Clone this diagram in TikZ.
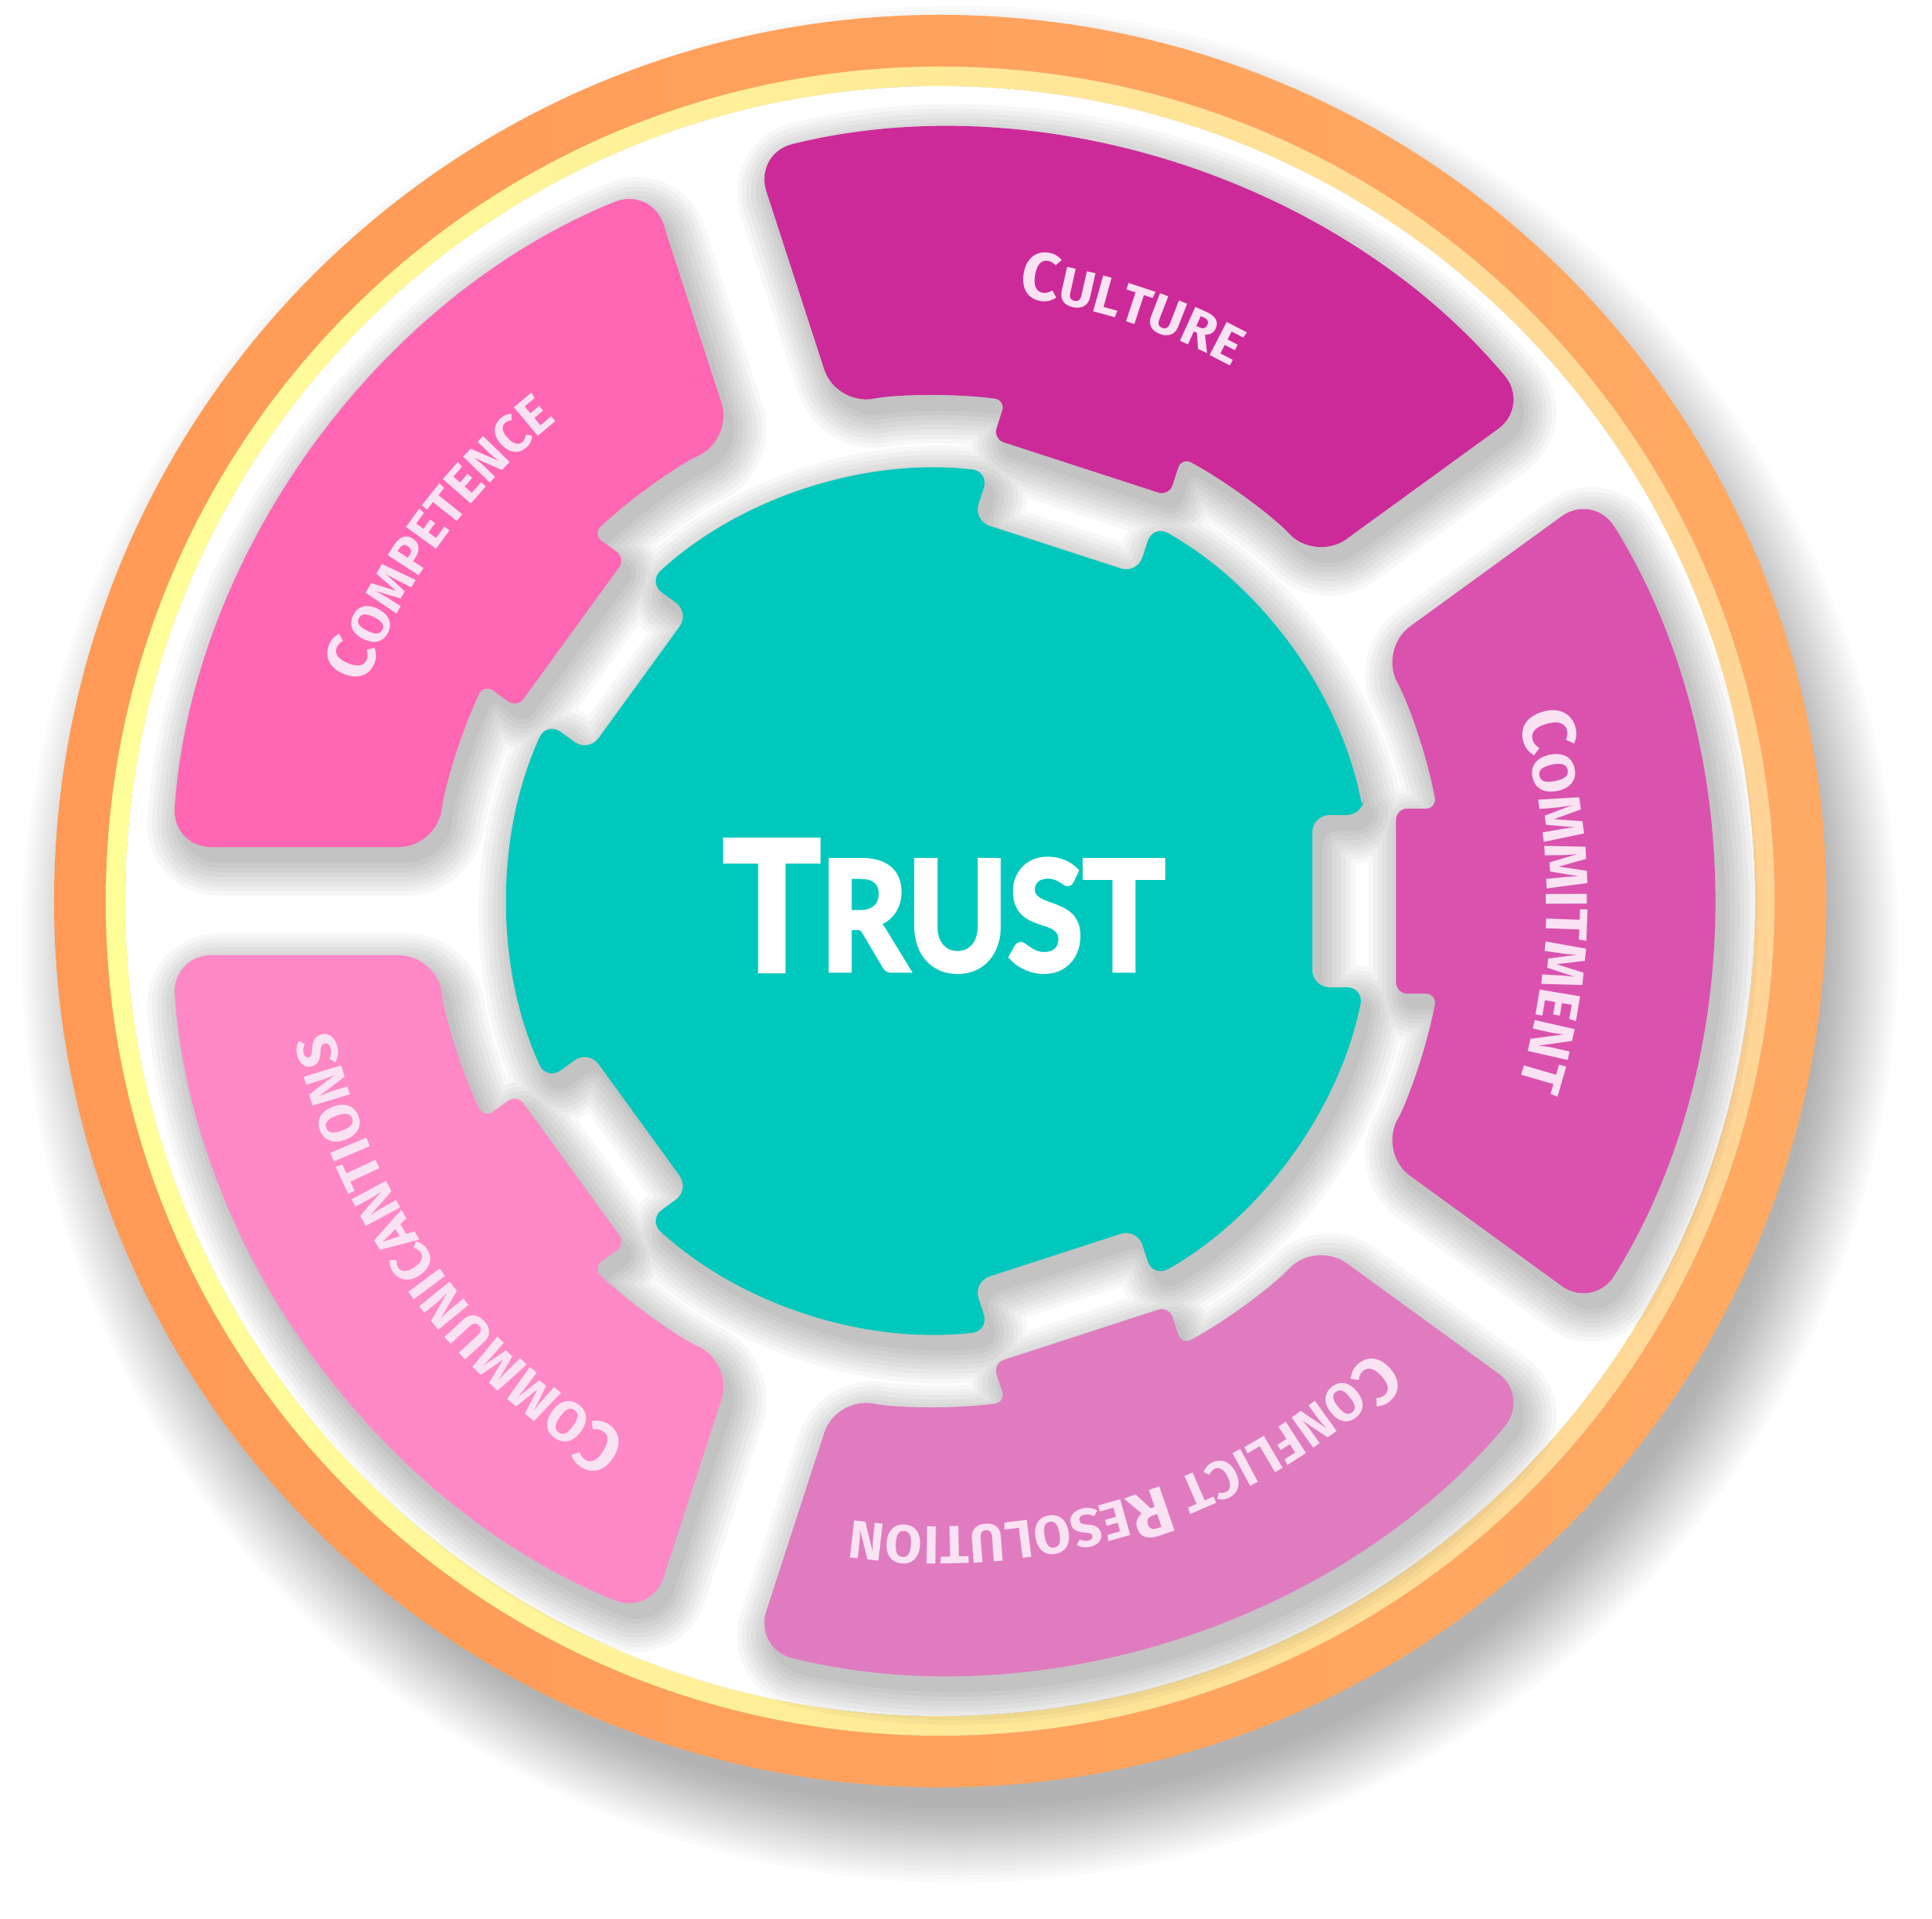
\documentclass[tikz,border=0pt]{standalone}
\usepackage{fontspec}
\setmainfont{Lato}
\newfontfamily\trustfont{Lato}[FakeBold=3.5]
\newfontfamily\labelfont{Fira Sans}
\usetikzlibrary{decorations.text}
\definecolor{ringorange}{HTML}{FF9A56}
\definecolor{ringorangeB}{HTML}{FFAA64}
\definecolor{ringyellow}{HTML}{FFFF9A}
\definecolor{ringpeach}{HTML}{FFD496}
\definecolor{trustteal}{HTML}{00C8BC}
\definecolor{labelcol}{HTML}{F9E2F2}
\definecolor{cCompetence}{HTML}{FF66B4}
\definecolor{lCompetence}{HTML}{FF96FA}
\definecolor{cCulture}{HTML}{CC2A99}
\definecolor{lCulture}{HTML}{FA40D0}
\definecolor{cCommitment}{HTML}{DA52AE}
\definecolor{lCommitment}{HTML}{FF62D6}
\definecolor{cConflict}{HTML}{E07BC0}
\definecolor{lConflict}{HTML}{FF8CDE}
\definecolor{cCommunic}{HTML}{FF88C6}
\definecolor{lCommunic}{HTML}{FFA4F2}
\pgfdeclareradialshading{shCompetence}{\pgfpoint{0bp}{0bp}}{color(0bp)=(cCompetence); color(37bp)=(cCompetence); color(50bp)=(lCompetence)}
\pgfdeclareradialshading{shCulture}{\pgfpoint{0bp}{0bp}}{color(0bp)=(cCulture); color(39bp)=(cCulture); color(50bp)=(lCulture)}
\pgfdeclareradialshading{shCommitment}{\pgfpoint{0bp}{0bp}}{color(0bp)=(cCommitment); color(39bp)=(cCommitment); color(50bp)=(lCommitment)}
\pgfdeclareradialshading{shConflict}{\pgfpoint{0bp}{0bp}}{color(0bp)=(cConflict); color(39bp)=(cConflict); color(50bp)=(lConflict)}
\pgfdeclareradialshading{shCommunic}{\pgfpoint{0bp}{0bp}}{color(0bp)=(cCommunic); color(37bp)=(cCommunic); color(50bp)=(lCommunic)}
% one ring block, centred on angle #1
\newcommand{\segpath}[1]{[rounded corners=0.5cm] ({#1-31.975}:9.83) arc[start angle={#1-31.975}, end angle={#1+31.975}, radius=9.83] -- ({#1+29.859}:6.45) [rounded corners=0.14cm] arc[start angle={#1+29.859}, end angle={#1+10.541}, radius=6.45] -- ({#1+11.461}:5.9384) -- ({#1-11.461}:5.9384) -- ({#1-10.541}:6.45) [rounded corners=0.5cm] arc[start angle={#1-10.541}, end angle={#1-29.859}, radius=6.45] -- cycle}
% central gear
\newcommand{\tealpath}{[rounded corners=0.22cm] (11.495:5.52) \foreach \k in {72,144,216,288,360} { arc[start angle={\k-72+11.495}, end angle={\k-11.495}, radius=5.52] -- ({\k-13.04}:4.8757) -- ({\k+13.04}:4.8757) -- ({\k+11.495}:5.52) } -- cycle}
\newcommand{\lblbig}{\labelfont\bfseries\fontsize{24.5}{24.5}\selectfont\color{labelcol}}
\newcommand{\lblsmall}{\labelfont\bfseries\fontsize{19.5}{19.5}\selectfont\color{labelcol}}
\newcommand{\lblbigB}{\labelfont\bfseries\fontsize{27}{27}\selectfont\color{labelcol}}
\newcommand{\lblsmallB}{\labelfont\bfseries\fontsize{21.5}{21.5}\selectfont\color{labelcol}}
\newcommand{\lblbigC}{\labelfont\bfseries\fontsize{25.5}{25.5}\selectfont\color{labelcol}}
\newcommand{\lblsmallC}{\labelfont\bfseries\fontsize{20.5}{20.5}\selectfont\color{labelcol}}
\tikzset{
  softedge/.style={black, line join=round},
  labeltext/.style={decorate, decoration={text along path, text align=center, text={#1}}}
}
\begin{document}
\begin{tikzpicture}
\useasboundingbox (-12.00,-12.98) rectangle (12.66,11.50);
\fill[white] (-12.00,-12.98) rectangle (12.66,11.50);
% outer soft shadow
\foreach \i in {0,...,19} \fill[black, opacity=0.016] (0.25,-0.55) circle ({11.98-0.05*\i});
% rings
\shade[left color=ringorange, right color=ringorangeB, even odd rule] (0,0) circle (11.31) circle (10.65);
\shade[left color=ringyellow, right color=ringpeach, even odd rule] (0,0) circle (10.65) circle (10.40);
\fill[white] (0,0) circle (10.40);
% soft shadows of the blocks and the gear
\begin{scope}[shift={(0.1,-0.17)}]
  \foreach \lw in {0.9,0.78,0.66,0.54,0.42,0.3,0.18,0.06} {
    \begin{scope}[transparency group, opacity=0.03]
      \foreach \t in {144,72,0,-72,-144} {
        \draw[softedge, line width=\lw cm, fill] \segpath{\t};
      }
      \draw[softedge, line width=\lw cm, fill] \tealpath;
    \end{scope}
  }
\end{scope}
% blocks
\foreach \t/\sh in {144/shCompetence, 72/shCulture, 0/shCommitment, -72/shConflict, -144/shCommunic} {
  \begin{scope}
    \clip \segpath{\t};
    \shade[shading=\sh] (0,0) circle (9.9);
  \end{scope}
}
% central gear
\fill[trustteal] \tealpath;
% labels
\path[labeltext={|\lblbig|C|\lblsmall|ULTURE}] ({72+45}:7.77) arc[start angle={72+45}, end angle={72-45}, radius=7.77];
\path[labeltext={|\lblbigB|C|\lblsmallB|OMMITMENT}] (45:7.74) arc[start angle=45, end angle=-45, radius=7.74];
\path[labeltext={|\lblbig|C|\lblsmall|ONFLICT |\lblbig|R|\lblsmall|ESOLUTION}] ({-72+48}:7.98) arc[start angle={-72+48}, end angle={-72-48}, radius=7.98];
\path[labeltext={|\lblbigC|C|\lblsmallC|OMMUNICANTIONS}] ({-144+45}:7.92) arc[start angle={-144+45}, end angle={-144-45}, radius=7.92];
\path[labeltext={|\lblbig|C|\lblsmall|OMPETENCE}] ({144+45}:7.84) arc[start angle={144+45}, end angle={144-45}, radius=7.84];
% centre title
\node[anchor=base, text=white, inner sep=0pt] (trust) at (0.05,-0.88)
  {\scalebox{0.9}[1]{\trustfont\bfseries{\fontsize{65}{65}\selectfont T}{\fontsize{55}{55}\selectfont RUST}}};
\end{tikzpicture}
\end{document}
